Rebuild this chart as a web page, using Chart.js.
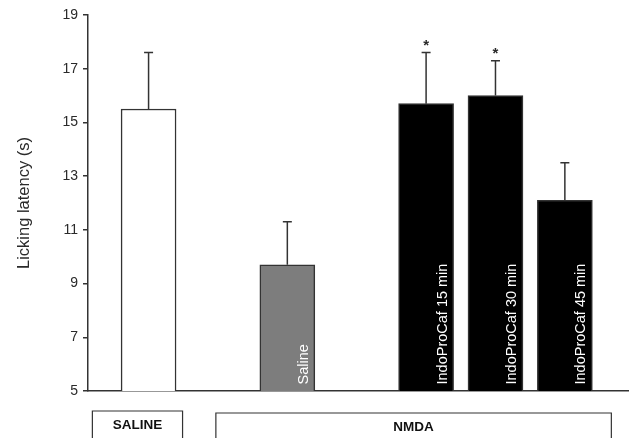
<!DOCTYPE html>
<html>
<head>
<meta charset="utf-8">
<script src="https://cdn.jsdelivr.net/npm/chart.js@4/dist/chart.umd.min.js"></script>
<style>
  html, body { margin: 0; padding: 0; background: #fff; }
  #wrap { width: 629px; height: 438px; }
</style>
</head>
<body>
<div id="wrap"><canvas id="c" width="629" height="438"></canvas></div>
<script>
// Licking latency per treatment, mean and SEM (s)
const groups = ['SALINE', 'NMDA'];
const treatments = ['', 'Saline', 'IndoProCaf 15 min', 'IndoProCaf 30 min', 'IndoProCaf 45 min'];
const treatmentGroup = ['SALINE', 'NMDA', 'NMDA', 'NMDA', 'NMDA'];
const latency = [15.5, 9.7, 15.7, 16.0, 12.1];
const sem = [2.1, 1.6, 1.9, 1.3, 1.4];
const significant = [false, false, true, true, false];
const yTicks = [5, 7, 9, 11, 13, 15, 17, 19];

// Layout: slot of each bar along the x axis, and the extent of each group box
const slots = [0, 2, 4, 5, 6];
const groupSpan = { SALINE: [-0.81, 0.49], NMDA: [0.97, 6.67] };
const barFill = ['#ffffff', '#7d7d7d', '#000000', '#000000', '#000000'];

const FONT = "'Liberation Sans', Arial, Helvetica, sans-serif";
const INK = '#2a2a2a';

const annotate = {
  id: 'annotate',
  afterDatasetsDraw(chart) {
    const ctx = chart.ctx;
    const y = chart.scales.y;
    const x = chart.scales.x;
    const halfBar = 27.5;
    const base = y.getPixelForValue(y.min);
    ctx.save();
    latency.forEach((v, i) => {
      const cx = x.getPixelForValue(slots[i]);
      const barTop = y.getPixelForValue(v);
      const top = y.getPixelForValue(v + sem[i]);
      // upper error bar
      ctx.strokeStyle = '#333';
      ctx.lineWidth = 1.5;
      ctx.beginPath();
      ctx.moveTo(cx, barTop);
      ctx.lineTo(cx, top);
      ctx.moveTo(cx - 4.5, top);
      ctx.lineTo(cx + 4.5, top);
      ctx.stroke();
      // significance marker
      if (significant[i]) {
        ctx.fillStyle = INK;
        ctx.font = 'bold 15px ' + FONT;
        ctx.textAlign = 'center';
        ctx.textBaseline = 'alphabetic';
        ctx.fillText('*', cx, top - 3);
      }
      // treatment name written up the bar
      if (treatments[i]) {
        ctx.save();
        ctx.translate(cx + halfBar - 7, base - 6.5);
        ctx.rotate(-Math.PI / 2);
        ctx.fillStyle = '#ffffff';
        ctx.font = '14.5px ' + FONT;
        ctx.textAlign = 'left';
        ctx.textBaseline = 'alphabetic';
        ctx.fillText(treatments[i], 0, 0);
        ctx.restore();
      }
    });
    // group boxes under the axis
    const boxTop = { SALINE: 411, NMDA: 413 };
    groups.forEach(g => {
      const x0 = x.getPixelForValue(groupSpan[g][0]);
      const x1 = x.getPixelForValue(groupSpan[g][1]);
      const t = boxTop[g];
      ctx.strokeStyle = '#333';
      ctx.lineWidth = 1.2;
      ctx.beginPath();
      ctx.moveTo(x0, 445);
      ctx.lineTo(x0, t);
      ctx.lineTo(x1, t);
      ctx.lineTo(x1, 445);
      ctx.stroke();
      ctx.fillStyle = '#111';
      ctx.font = 'bold 13.5px ' + FONT;
      ctx.textAlign = 'center';
      ctx.textBaseline = 'middle';
      ctx.fillText(g, (x0 + x1) / 2, t + 14);
    });
    ctx.restore();
  }
};

new Chart(document.getElementById('c'), {
  type: 'bar',
  data: {
    datasets: [{
      data: latency.map((v, i) => ({ x: slots[i], y: v })),
      backgroundColor: barFill,
      borderColor: '#333',
      borderWidth: 1.5,
      borderSkipped: false,
      barThickness: 55
    }]
  },
  options: {
    responsive: false,
    devicePixelRatio: 1,
    animation: false,
    layout: { padding: { top: 15, right: 1, bottom: 47, left: 0 } },
    plugins: { legend: { display: false }, tooltip: { enabled: false } },
    scales: {
      x: {
        type: 'linear',
        offset: false,
        min: -0.873,
        max: 6.91,
        grid: { display: false, drawTicks: false, offset: false },
        ticks: { display: false },
        border: { display: true, color: '#333', width: 1.5 },
        afterFit: s => { s.height = 0; }
      },
      y: {
        min: 5,
        max: 19,
        afterBuildTicks: s => { s.ticks = yTicks.map(v => ({ value: v })); },
        ticks: { color: INK, font: { family: FONT, size: 14 }, padding: 5 },
        grid: { drawOnChartArea: false, drawTicks: true, tickLength: 5, color: '#333', lineWidth: 1.5 },
        border: { display: true, color: '#333', width: 1.5 },
        title: {
          display: true,
          text: 'Licking latency (s)',
          color: INK,
          font: { family: FONT, size: 16.5 },
          padding: { top: 15, bottom: 0 }
        },
        afterFit: s => { s.width = 88; }
      }
    }
  },
  plugins: [annotate]
});
</script>
</body>
</html>
